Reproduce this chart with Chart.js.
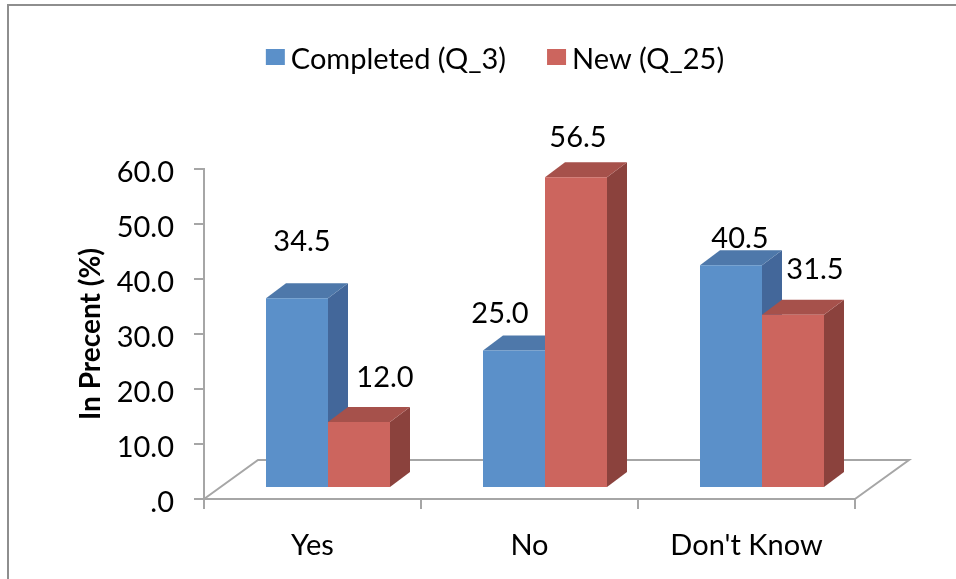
<!DOCTYPE html>
<html>
<head>
<meta charset="utf-8">
<title>Completed vs New</title>
<script src="https://cdn.jsdelivr.net/npm/chart.js@4.4.1/dist/chart.umd.min.js"></script>
<style>
  html, body { margin: 0; padding: 0; background: #fff; }
  canvas { display: block; }
</style>
</head>
<body>
<canvas id="chart" width="956" height="579"></canvas>
<script>
// ---- data ----
const categories = ["Yes", "No", "Don't Know"];
const seriesNames = ["Completed (Q_3)", "New (Q_25)"];
const completed = [34.5, 25.0, 40.5];
const newQ25 = [12.0, 56.5, 31.5];
const yMin = 0;
const yMax = 60;
const yStep = 10;

// ---- look ----
const FONT = "Lato, 'Open Sans', sans-serif";
const FONT_SIZE = 29;
const AXIS_GRAY = "#a6a6a6";
const FRONT = { dx: 15.5, dy: -11 };   // bars sit a bit back on the floor
const DEPTH = { dx: 20, dy: -15 };     // bar thickness
const FLOOR = { dx: 54, dy: -39 };     // floor depth
// label nudges from the bar's front-top centre, per series / category
const labelShift = [
  [[5, -57], [-14, -38], [9, -27]],
  [[26, -45], [2, -40], [22, -46]]
];

const el = (id) => document.getElementById(id);

function poly(ctx, pts, fill) {
  ctx.beginPath();
  ctx.moveTo(pts[0][0], pts[0][1]);
  for (let i = 1; i < pts.length; i++) ctx.lineTo(pts[i][0], pts[i][1]);
  ctx.closePath();
  ctx.fillStyle = fill;
  ctx.fill();
}

function barBox(bar) {
  const p = bar.getProps(["x", "y", "base", "width"], true);
  return {
    l: p.x - p.width / 2 + FRONT.dx,
    r: p.x + p.width / 2 + FRONT.dx,
    t: p.y + FRONT.dy,
    b: p.base + FRONT.dy
  };
}

const bars3d = {
  id: "bars3d",
  beforeDatasetsDraw(chart) {
    const ctx = chart.ctx;
    const a = chart.chartArea;

    // floor outline (front edge is the x axis border)
    ctx.save();
    ctx.strokeStyle = AXIS_GRAY;
    ctx.lineWidth = 2;
    ctx.beginPath();
    ctx.moveTo(a.left, a.bottom);
    ctx.lineTo(a.left + FLOOR.dx, a.bottom + FLOOR.dy);
    ctx.lineTo(a.right + FLOOR.dx, a.bottom + FLOOR.dy);
    ctx.lineTo(a.right, a.bottom);
    ctx.stroke();

    // side + top faces, left series first so the right one covers it
    chart.data.datasets.forEach((ds, i) => {
      chart.getDatasetMeta(i).data.forEach((bar) => {
        const { l, r, t, b } = barBox(bar);
        poly(ctx, [[r, t], [r + DEPTH.dx, t + DEPTH.dy], [r + DEPTH.dx, b + DEPTH.dy], [r, b]], ds.sideColor);
        poly(ctx, [[l, t], [l + DEPTH.dx, t + DEPTH.dy], [r + DEPTH.dx, t + DEPTH.dy], [r, t]], ds.topColor);
      });
    });
    ctx.restore();

    // front faces drawn by Chart.js, shifted onto the floor
    ctx.save();
    ctx.translate(FRONT.dx, FRONT.dy);
  },
  afterDatasetsDraw(chart) {
    const ctx = chart.ctx;
    ctx.restore();

    // value labels
    ctx.save();
    ctx.font = FONT_SIZE + "px " + FONT;
    ctx.fillStyle = "#000";
    ctx.textAlign = "center";
    ctx.textBaseline = "alphabetic";
    chart.data.datasets.forEach((ds, i) => {
      chart.getDatasetMeta(i).data.forEach((bar, j) => {
        const { l, r, t } = barBox(bar);
        const [dx, dy] = labelShift[i][j];
        ctx.fillText(ds.data[j].toFixed(1), (l + r) / 2 + dx, t + dy + 10);
      });
    });
    ctx.restore();
  },
  afterDraw(chart) {
    const ctx = chart.ctx;
    ctx.save();

    // legend
    ctx.font = FONT_SIZE + "px " + FONT;
    ctx.textBaseline = "alphabetic";
    const boxW = 19, boxH = 16, gapText = 6, gapItem = 41;
    const widths = chart.data.datasets.map(ds => ctx.measureText(ds.label).width);
    const total = widths.reduce((s, w) => s + boxW + gapText + w, 0) + gapItem * (widths.length - 1);
    let x = 495 - total / 2;
    chart.data.datasets.forEach((ds, i) => {
      ctx.fillStyle = ds.backgroundColor;
      ctx.fillRect(x, 49, boxW, boxH);
      ctx.fillStyle = "#000";
      ctx.fillText(ds.label, x + boxW + gapText, 69);
      x += boxW + gapText + widths[i] + gapItem;
    });

    // outer frame (only top/left fit in the picture)
    ctx.strokeStyle = "#8e8e8e";
    ctx.lineWidth = 2;
    ctx.beginPath();
    ctx.moveTo(8, 600);
    ctx.lineTo(8, 5);
    ctx.lineTo(1000, 5);
    ctx.stroke();
    ctx.restore();
  }
};

const chart = new Chart(el("chart").getContext("2d"), {
  type: "bar",
  data: {
    labels: categories,
    datasets: [
      {
        label: seriesNames[0],
        data: completed,
        backgroundColor: "#5b90c9",
        sideColor: "#43679a",
        topColor: "#4e78aa",
        borderWidth: 0
      },
      {
        label: seriesNames[1],
        data: newQ25,
        backgroundColor: "#cc655e",
        sideColor: "#8b423d",
        topColor: "#a6514b",
        borderWidth: 0
      }
    ]
  },
  options: {
    responsive: false,
    animation: false,
    devicePixelRatio: 1,
    layout: { padding: { top: 169, left: 0, right: 101, bottom: 0 } },
    datasets: {
      bar: { categoryPercentage: 124 / 217, barPercentage: 1.0, clip: false }
    },
    plugins: {
      legend: { display: false },
      tooltip: { enabled: false }
    },
    scales: {
      x: {
        afterFit: (s) => { s.height = 80; },
        grid: {
          display: true,
          offset: true,
          drawOnChartArea: false,
          drawTicks: true,
          tickLength: 10,
          color: AXIS_GRAY,
          lineWidth: 2
        },
        border: { display: true, color: AXIS_GRAY, width: 2 },
        ticks: {
          color: "#000",
          padding: 19,
          font: { family: FONT, size: FONT_SIZE }
        }
      },
      y: {
        min: yMin,
        max: yMax,
        afterFit: (s) => { s.width = 204; },
        grid: {
          display: true,
          drawOnChartArea: false,
          drawTicks: true,
          tickLength: 10,
          color: AXIS_GRAY,
          lineWidth: 2
        },
        border: { display: true, color: AXIS_GRAY, width: 2 },
        ticks: {
          stepSize: yStep,
          color: "#000",
          padding: 20,
          labelOffset: 4,
          font: { family: FONT, size: FONT_SIZE },
          callback: (v) => (v === 0 ? ".0" : Number(v).toFixed(1))
        },
        title: {
          display: true,
          text: "In Precent (%)",
          color: "#000",
          font: { family: FONT, size: 28, weight: "bold" },
          padding: { top: 74, bottom: 0 }
        }
      }
    }
  },
  plugins: [bars3d]
});
</script>
</body>
</html>
